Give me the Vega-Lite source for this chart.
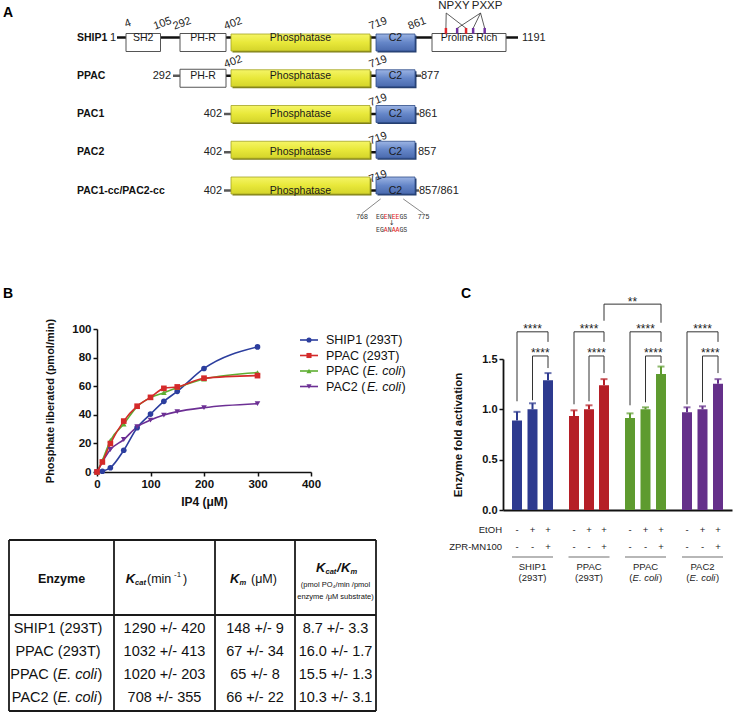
{
"$schema":"https://vega.github.io/schema/vega-lite/v6.json",
"width":733,"height":713,"padding":0,"autosize":{"type":"none"},"background":"white",
"config":{"view":{"stroke":null},"font":"Liberation Sans","axis":{"grid":false}},
"datasets":{
"proteins":[
{"row":0,"name":"SHIP1","start":1,"end":1191,"startLabel":"1","endLabel":"1191"},
{"row":1,"name":"PPAC","start":292,"end":877,"startLabel":"292","endLabel":"877"},
{"row":2,"name":"PAC1","start":402,"end":861,"startLabel":"402","endLabel":"861"},
{"row":3,"name":"PAC2","start":402,"end":857,"startLabel":"402","endLabel":"857"},
{"row":4,"name":"PAC1-cc/PAC2-cc","start":402,"end":861,"startLabel":"402","endLabel":"857/861"}],
"domains":[
{"row":0,"domain":"SH2","kind":"plain","start":4,"end":105},
{"row":0,"domain":"PH-R","kind":"plain","start":292,"end":398},
{"row":0,"domain":"Phosphatase","kind":"phos","start":402,"end":715},
{"row":0,"domain":"C2","kind":"c2","start":719,"end":861},
{"row":0,"domain":"Proline Rich","kind":"plain","start":900,"end":1150},
{"row":1,"domain":"PH-R","kind":"plain","start":292,"end":398},
{"row":1,"domain":"Phosphatase","kind":"phos","start":402,"end":715},
{"row":1,"domain":"C2","kind":"c2","start":719,"end":861},
{"row":2,"domain":"Phosphatase","kind":"phos","start":402,"end":715},
{"row":2,"domain":"C2","kind":"c2","start":719,"end":861},
{"row":3,"domain":"Phosphatase","kind":"phos","start":402,"end":715},
{"row":3,"domain":"C2","kind":"c2","start":719,"end":861},
{"row":4,"domain":"Phosphatase","kind":"phos","start":402,"end":715},
{"row":4,"domain":"C2","kind":"c2","start":719,"end":861}],
"positions":[
{"row":0,"res":4,"label":"4"},{"row":0,"res":105,"label":"105"},{"row":0,"res":292,"label":"292"},{"row":0,"res":402,"label":"402"},{"row":0,"res":719,"label":"719"},{"row":0,"res":861,"label":"861"},
{"row":1,"res":402,"label":"402"},{"row":1,"res":719,"label":"719"},{"row":2,"res":719,"label":"719"},{"row":3,"res":719,"label":"719"},{"row":4,"res":719,"label":"719"}],
"motifs":[{"motif":"NPXY","res":947},{"motif":"NPXY","res":1015},{"motif":"PXXP","res":985},{"motif":"PXXP","res":1039},{"motif":"PXXP","res":1078}],
"motifLabels":[{"motif":"NPXY","labelRes":974,"originRes":948},{"motif":"PXXP","labelRes":1086,"originRes":1064}],
"mutEnds":[{"label":"768","res":697,"boxRes":736},{"label":"775","res":887,"boxRes":818}],
"mutation":[
{"line":0,"sequence":"EGENEEGS","p1":"EG","p2":"E","p3":"N","p4":"EE","p5":"GS"},
{"line":1,"sequence":"EGANAAGS","p1":"EG","p2":"A","p3":"N","p4":"AA","p5":"GS"}],
"kinetics":[
{"series":"SHIP1 (293T)","ip4":0,"rate":0},{"series":"SHIP1 (293T)","ip4":10,"rate":0.5},{"series":"SHIP1 (293T)","ip4":25,"rate":3},{"series":"SHIP1 (293T)","ip4":50,"rate":15.2},{"series":"SHIP1 (293T)","ip4":75,"rate":31},{"series":"SHIP1 (293T)","ip4":100,"rate":40.5},{"series":"SHIP1 (293T)","ip4":125,"rate":49.4},{"series":"SHIP1 (293T)","ip4":150,"rate":56.4},{"series":"SHIP1 (293T)","ip4":200,"rate":72.4},{"series":"SHIP1 (293T)","ip4":300,"rate":87.5},
{"series":"PPAC (E. coli)","ip4":0,"rate":0},{"series":"PPAC (E. coli)","ip4":10,"rate":8},{"series":"PPAC (E. coli)","ip4":25,"rate":22},{"series":"PPAC (E. coli)","ip4":50,"rate":33.5},{"series":"PPAC (E. coli)","ip4":75,"rate":45.7},{"series":"PPAC (E. coli)","ip4":100,"rate":52},{"series":"PPAC (E. coli)","ip4":125,"rate":55.5},{"series":"PPAC (E. coli)","ip4":150,"rate":59},{"series":"PPAC (E. coli)","ip4":200,"rate":65},{"series":"PPAC (E. coli)","ip4":300,"rate":69.5},
{"series":"PAC2 (E. coli)","ip4":0,"rate":0},{"series":"PAC2 (E. coli)","ip4":25,"rate":15.7},{"series":"PAC2 (E. coli)","ip4":50,"rate":22.7},{"series":"PAC2 (E. coli)","ip4":75,"rate":31.6},{"series":"PAC2 (E. coli)","ip4":100,"rate":36.3},{"series":"PAC2 (E. coli)","ip4":125,"rate":39.8},{"series":"PAC2 (E. coli)","ip4":150,"rate":42.2},{"series":"PAC2 (E. coli)","ip4":200,"rate":45},{"series":"PAC2 (E. coli)","ip4":300,"rate":47.8},
{"series":"PPAC (293T)","ip4":0,"rate":0},{"series":"PPAC (293T)","ip4":10,"rate":7},{"series":"PPAC (293T)","ip4":25,"rate":19.9},{"series":"PPAC (293T)","ip4":50,"rate":35.6},{"series":"PPAC (293T)","ip4":75,"rate":46},{"series":"PPAC (293T)","ip4":100,"rate":52.2},{"series":"PPAC (293T)","ip4":125,"rate":58.5},{"series":"PPAC (293T)","ip4":150,"rate":59.5},{"series":"PPAC (293T)","ip4":200,"rate":65.6},{"series":"PPAC (293T)","ip4":300,"rate":67.4}],
"series":[
{"series":"SHIP1 (293T)","prefix":"SHIP1 (","host":"293T"},
{"series":"PPAC (293T)","prefix":"PPAC (","host":"293T"},
{"series":"PPAC (E. coli)","prefix":"PPAC (","host":"E. coli"},
{"series":"PAC2 (E. coli)","prefix":"PAC2 (","host":"E. coli"}],
"table":[
{"r":1.5,"enzyme":"SHIP1  (293T)","prefix":"SHIP1 (","host":"293T","kcat":"1290 +/- 420","km":"148 +/- 9","ratio":"8.7 +/- 3.3"},
{"r":2.5,"enzyme":"PPAC  (293T)","prefix":"PPAC (","host":"293T","kcat":"1032 +/- 413","km":"67 +/- 34","ratio":"16.0 +/- 1.7"},
{"r":3.5,"enzyme":"PPAC (E. coli)","prefix":"PPAC (","host":"E. coli","kcat":"1020 +/- 203","km":"65 +/- 8","ratio":"15.5 +/- 1.3"},
{"r":4.5,"enzyme":"PAC2 (E. coli)","prefix":"PAC2 (","host":"E. coli","kcat":"708 +/- 355","km":"66 +/- 22","ratio":"10.3 +/- 3.1"}],
"activation":[
{"enzyme":"SHIP1 (293T)","slot":0,"etoh":"-","zpr":"-","mean":0.89,"upper":0.975},
{"enzyme":"SHIP1 (293T)","slot":1,"etoh":"+","zpr":"-","mean":1.0,"upper":1.06},
{"enzyme":"SHIP1 (293T)","slot":2,"etoh":"+","zpr":"+","mean":1.29,"upper":1.36},
{"enzyme":"PPAC (293T)","slot":3,"etoh":"-","zpr":"-","mean":0.935,"upper":0.99},
{"enzyme":"PPAC (293T)","slot":4,"etoh":"+","zpr":"-","mean":1.0,"upper":1.04},
{"enzyme":"PPAC (293T)","slot":5,"etoh":"+","zpr":"+","mean":1.24,"upper":1.3},
{"enzyme":"PPAC (E. coli)","slot":6,"etoh":"-","zpr":"-","mean":0.915,"upper":0.96},
{"enzyme":"PPAC (E. coli)","slot":7,"etoh":"+","zpr":"-","mean":1.0,"upper":1.02},
{"enzyme":"PPAC (E. coli)","slot":8,"etoh":"+","zpr":"+","mean":1.35,"upper":1.425},
{"enzyme":"PAC2 (E. coli)","slot":9,"etoh":"-","zpr":"-","mean":0.97,"upper":1.02},
{"enzyme":"PAC2 (E. coli)","slot":10,"etoh":"+","zpr":"-","mean":1.0,"upper":1.03},
{"enzyme":"PAC2 (E. coli)","slot":11,"etoh":"+","zpr":"+","mean":1.255,"upper":1.3}],
"brackets":[
{"x1":0,"x2":2,"xm":1,"top":1.77,"yl":1.08,"yr":1.67,"label":"****"},
{"x1":1,"x2":2,"xm":1.5,"top":1.53,"yl":1.09,"yr":1.41,"label":"****"},
{"x1":3,"x2":5,"xm":4,"top":1.77,"yl":1.05,"yr":1.67,"label":"****"},
{"x1":4,"x2":5,"xm":4.5,"top":1.53,"yl":1.08,"yr":1.36,"label":"****"},
{"x1":6,"x2":8,"xm":7,"top":1.77,"yl":1.04,"yr":1.67,"label":"****"},
{"x1":7,"x2":8,"xm":7.5,"top":1.53,"yl":1.07,"yr":1.46,"label":"****"},
{"x1":9,"x2":11,"xm":10,"top":1.77,"yl":1.05,"yr":1.67,"label":"****"},
{"x1":10,"x2":11,"xm":10.5,"top":1.53,"yl":1.07,"yr":1.36,"label":"****"},
{"x1":5,"x2":8,"xm":6.16,"top":2.045,"yl":1.88,"yr":1.86,"label":"**"}],
"groups":[
{"g":"SHIP1 (293T)","name":"SHIP1","host":"293T","mid":1},
{"g":"PPAC (293T)","name":"PPAC","host":"293T","mid":4},
{"g":"PPAC (E. coli)","name":"PPAC","host":"E. coli","mid":7},
{"g":"PAC2 (E. coli)","name":"PAC2","host":"E. coli","mid":10}]
},
"resolve":{"scale":{"x":"independent","y":"independent","color":"independent","shape":"independent"}},
"layer":[
{"data":{"name":"proteins"},"mark":{"type":"rule","strokeWidth":2.5,"color":"#111"},
 "encoding":{"x":{"field":"start","type":"quantitative","scale":{"type":"linear","domain":[1,4,105,292,398,402,715,719,861,877,900,1150,1191],"range":[117,126,160.5,180,226,231,370,376,415,417,432,506,518],"zero":false,"nice":false},"axis":null},"x2":{"field":"end"},
 "y":{"field":"row","type":"quantitative","scale":{"type":"linear","domain":[0,4],"range":[37.5,190.5],"zero":false,"nice":false},"axis":null}}},
{"data":{"name":"proteins"},"transform":[{"filter":"datum.row > 0"}],"mark":{"type":"tick","orient":"horizontal","size":7,"thickness":2.5,"xOffset":-3.5,"color":"#111"},
 "encoding":{"x":{"field":"start","type":"quantitative","scale":{"type":"linear","domain":[1,4,105,292,398,402,715,719,861,877,900,1150,1191],"range":[117,126,160.5,180,226,231,370,376,415,417,432,506,518],"zero":false,"nice":false},"axis":null},
 "y":{"field":"row","type":"quantitative","scale":{"type":"linear","domain":[0,4],"range":[37.5,190.5],"zero":false,"nice":false},"axis":null}}},
{"data":{"name":"proteins"},"transform":[{"filter":"datum.row == 1 || datum.row == 2 || datum.row == 4"}],"mark":{"type":"tick","orient":"horizontal","size":4,"thickness":2.5,"xOffset":2,"color":"#111"},
 "encoding":{"x":{"field":"end","type":"quantitative","scale":{"type":"linear","domain":[1,4,105,292,398,402,715,719,861,877,900,1150,1191],"range":[117,126,160.5,180,226,231,370,376,415,417,432,506,518],"zero":false,"nice":false},"axis":null},
 "y":{"field":"row","type":"quantitative","scale":{"type":"linear","domain":[0,4],"range":[37.5,190.5],"zero":false,"nice":false},"axis":null}}},
{"data":{"name":"domains"},"transform":[{"filter":"datum.kind == 'phos'"}],"mark":{"type":"bar","orient":"horizontal","height":17,"xOffset":1.5,"x2Offset":1.5,"yOffset":1.5,"color":"#7d7d16"},
 "encoding":{"x":{"field":"start","type":"quantitative","scale":{"type":"linear","domain":[1,4,105,292,398,402,715,719,861,877,900,1150,1191],"range":[117,126,160.5,180,226,231,370,376,415,417,432,506,518],"zero":false,"nice":false},"axis":null},"x2":{"field":"end"},
 "y":{"field":"row","type":"quantitative","scale":{"type":"linear","domain":[0,4],"range":[37.5,190.5],"zero":false,"nice":false},"axis":null}}},
{"data":{"name":"domains"},"transform":[{"filter":"datum.kind == 'c2'"}],"mark":{"type":"bar","orient":"horizontal","height":17,"xOffset":1.5,"x2Offset":1.5,"yOffset":1.5,"color":"#253e6e"},
 "encoding":{"x":{"field":"start","type":"quantitative","scale":{"type":"linear","domain":[1,4,105,292,398,402,715,719,861,877,900,1150,1191],"range":[117,126,160.5,180,226,231,370,376,415,417,432,506,518],"zero":false,"nice":false},"axis":null},"x2":{"field":"end"},
 "y":{"field":"row","type":"quantitative","scale":{"type":"linear","domain":[0,4],"range":[37.5,190.5],"zero":false,"nice":false},"axis":null}}},
{"data":{"name":"domains"},"transform":[{"filter":"datum.kind == 'plain'"}],"mark":{"type":"bar","orient":"horizontal","height":18,"fill":"white","stroke":"#555","strokeWidth":1},
 "encoding":{"x":{"field":"start","type":"quantitative","scale":{"type":"linear","domain":[1,4,105,292,398,402,715,719,861,877,900,1150,1191],"range":[117,126,160.5,180,226,231,370,376,415,417,432,506,518],"zero":false,"nice":false},"axis":null},"x2":{"field":"end"},
 "y":{"field":"row","type":"quantitative","scale":{"type":"linear","domain":[0,4],"range":[37.5,190.5],"zero":false,"nice":false},"axis":null}}},
{"data":{"name":"domains"},"transform":[{"filter":"datum.kind == 'phos'"}],"mark":{"type":"bar","orient":"horizontal","height":17,"stroke":"#a3a324","strokeWidth":0.8,"fill":{"gradient":"linear","x1":0,"y1":0,"x2":0,"y2":1,"stops":[{"offset":0,"color":"#f5f566"},{"offset":0.5,"color":"#e8e83a"},{"offset":1,"color":"#d4d42a"}]}},
 "encoding":{"x":{"field":"start","type":"quantitative","scale":{"type":"linear","domain":[1,4,105,292,398,402,715,719,861,877,900,1150,1191],"range":[117,126,160.5,180,226,231,370,376,415,417,432,506,518],"zero":false,"nice":false},"axis":null},"x2":{"field":"end"},
 "y":{"field":"row","type":"quantitative","scale":{"type":"linear","domain":[0,4],"range":[37.5,190.5],"zero":false,"nice":false},"axis":null}}},
{"data":{"name":"domains"},"transform":[{"filter":"datum.kind == 'c2'"}],"mark":{"type":"bar","orient":"horizontal","height":17,"stroke":"#2d4c88","strokeWidth":0.8,"fill":{"gradient":"linear","x1":0,"y1":0,"x2":0,"y2":1,"stops":[{"offset":0,"color":"#9cb4e4"},{"offset":0.5,"color":"#6586c8"},{"offset":1,"color":"#4a6aae"}]}},
 "encoding":{"x":{"field":"start","type":"quantitative","scale":{"type":"linear","domain":[1,4,105,292,398,402,715,719,861,877,900,1150,1191],"range":[117,126,160.5,180,226,231,370,376,415,417,432,506,518],"zero":false,"nice":false},"axis":null},"x2":{"field":"end"},
 "y":{"field":"row","type":"quantitative","scale":{"type":"linear","domain":[0,4],"range":[37.5,190.5],"zero":false,"nice":false},"axis":null}}},
{"data":{"name":"domains"},"transform":[{"calculate":"(datum.start + datum.end) / 2","as":"mid"}],"mark":{"type":"text","fontSize":10.5,"color":"#1a1a1a","baseline":"middle","align":"center"},
 "encoding":{"x":{"field":"mid","type":"quantitative","scale":{"type":"linear","domain":[1,4,105,292,398,402,715,719,861,877,900,1150,1191],"range":[117,126,160.5,180,226,231,370,376,415,417,432,506,518],"zero":false,"nice":false},"axis":null},
 "y":{"field":"row","type":"quantitative","scale":{"type":"linear","domain":[0,4],"range":[37.5,190.5],"zero":false,"nice":false},"axis":null},"text":{"field":"domain"}}},
{"data":{"name":"motifs"},"transform":[{"lookup":"motif","from":{"data":{"name":"motifLabels"},"key":"motif","fields":["originRes"]}}],"mark":{"type":"rule","strokeWidth":0.8,"color":"#333"},
 "encoding":{"x":{"field":"originRes","type":"quantitative","scale":{"type":"linear","domain":[1,4,105,292,398,402,715,719,861,877,900,1150,1191],"range":[117,126,160.5,180,226,231,370,376,415,417,432,506,518],"zero":false,"nice":false},"axis":null},"x2":{"field":"res"},
 "y":{"datum":-0.64,"type":"quantitative","scale":{"type":"linear","domain":[0,4],"range":[37.5,190.5],"zero":false,"nice":false},"axis":null},"y2":{"datum":-0.24}}},
{"data":{"name":"motifs"},"transform":[{"filter":"datum.motif == 'NPXY'"}],"mark":{"type":"rule","strokeWidth":2.5,"color":"#e0262b"},
 "encoding":{"x":{"field":"res","type":"quantitative","scale":{"type":"linear","domain":[1,4,105,292,398,402,715,719,861,877,900,1150,1191],"range":[117,126,160.5,180,226,231,370,376,415,417,432,506,518],"zero":false,"nice":false},"axis":null},
 "y":{"datum":-0.25,"type":"quantitative","scale":{"type":"linear","domain":[0,4],"range":[37.5,190.5],"zero":false,"nice":false},"axis":null},"y2":{"datum":-0.1}}},
{"data":{"name":"motifs"},"transform":[{"filter":"datum.motif == 'PXXP'"}],"mark":{"type":"rule","strokeWidth":2.5,"color":"#7030a0"},
 "encoding":{"x":{"field":"res","type":"quantitative","scale":{"type":"linear","domain":[1,4,105,292,398,402,715,719,861,877,900,1150,1191],"range":[117,126,160.5,180,226,231,370,376,415,417,432,506,518],"zero":false,"nice":false},"axis":null},
 "y":{"datum":-0.25,"type":"quantitative","scale":{"type":"linear","domain":[0,4],"range":[37.5,190.5],"zero":false,"nice":false},"axis":null},"y2":{"datum":-0.1}}},
{"data":{"name":"motifLabels"},"mark":{"type":"text","fontSize":11.5,"color":"#222","baseline":"middle","align":"center"},
 "encoding":{"x":{"field":"labelRes","type":"quantitative","scale":{"type":"linear","domain":[1,4,105,292,398,402,715,719,861,877,900,1150,1191],"range":[117,126,160.5,180,226,231,370,376,415,417,432,506,518],"zero":false,"nice":false},"axis":null},
 "y":{"datum":-0.83,"type":"quantitative","scale":{"type":"linear","domain":[0,4],"range":[37.5,190.5],"zero":false,"nice":false},"axis":null},"text":{"field":"motif"}}},
{"data":{"name":"proteins"},"mark":{"type":"text","fontSize":10.5,"fontWeight":"bold","color":"#111","baseline":"middle","align":"left","dx":-40},
 "encoding":{"x":{"datum":1,"type":"quantitative","scale":{"type":"linear","domain":[1,4,105,292,398,402,715,719,861,877,900,1150,1191],"range":[117,126,160.5,180,226,231,370,376,415,417,432,506,518],"zero":false,"nice":false},"axis":null},
 "y":{"field":"row","type":"quantitative","scale":{"type":"linear","domain":[0,4],"range":[37.5,190.5],"zero":false,"nice":false},"axis":null},"text":{"field":"name"}}},
{"data":{"name":"proteins"},"transform":[{"filter":"datum.row == 0"}],"mark":{"type":"text","fontSize":11,"color":"#222","baseline":"middle","align":"right","dx":-1},
 "encoding":{"x":{"field":"start","type":"quantitative","scale":{"type":"linear","domain":[1,4,105,292,398,402,715,719,861,877,900,1150,1191],"range":[117,126,160.5,180,226,231,370,376,415,417,432,506,518],"zero":false,"nice":false},"axis":null},
 "y":{"field":"row","type":"quantitative","scale":{"type":"linear","domain":[0,4],"range":[37.5,190.5],"zero":false,"nice":false},"axis":null},"text":{"field":"startLabel"}}},
{"data":{"name":"proteins"},"transform":[{"filter":"datum.row > 0"}],"mark":{"type":"text","fontSize":11,"color":"#222","baseline":"middle","align":"right","dx":-9},
 "encoding":{"x":{"field":"start","type":"quantitative","scale":{"type":"linear","domain":[1,4,105,292,398,402,715,719,861,877,900,1150,1191],"range":[117,126,160.5,180,226,231,370,376,415,417,432,506,518],"zero":false,"nice":false},"axis":null},
 "y":{"field":"row","type":"quantitative","scale":{"type":"linear","domain":[0,4],"range":[37.5,190.5],"zero":false,"nice":false},"axis":null},"text":{"field":"startLabel"}}},
{"data":{"name":"proteins"},"mark":{"type":"text","fontSize":11,"color":"#222","baseline":"middle","align":"left","dx":4},
 "encoding":{"x":{"field":"end","type":"quantitative","scale":{"type":"linear","domain":[1,4,105,292,398,402,715,719,861,877,900,1150,1191],"range":[117,126,160.5,180,226,231,370,376,415,417,432,506,518],"zero":false,"nice":false},"axis":null},
 "y":{"field":"row","type":"quantitative","scale":{"type":"linear","domain":[0,4],"range":[37.5,190.5],"zero":false,"nice":false},"axis":null},"text":{"field":"endLabel"}}},
{"data":{"name":"positions"},"mark":{"type":"text","fontSize":11,"color":"#222","baseline":"alphabetic","align":"center","angle":-20,"xOffset":3,"yOffset":-11},
 "encoding":{"x":{"field":"res","type":"quantitative","scale":{"type":"linear","domain":[1,4,105,292,398,402,715,719,861,877,900,1150,1191],"range":[117,126,160.5,180,226,231,370,376,415,417,432,506,518],"zero":false,"nice":false},"axis":null},
 "y":{"field":"row","type":"quantitative","scale":{"type":"linear","domain":[0,4],"range":[37.5,190.5],"zero":false,"nice":false},"axis":null},"text":{"field":"label"}}},
{"data":{"name":"mutEnds"},"mark":{"type":"rule","strokeWidth":0.7,"color":"#555"},
 "encoding":{"x":{"field":"boxRes","type":"quantitative","scale":{"type":"linear","domain":[1,4,105,292,398,402,715,719,861,877,900,1150,1191],"range":[117,126,160.5,180,226,231,370,376,415,417,432,506,518],"zero":false,"nice":false},"axis":null},"x2":{"field":"res"},
 "y":{"datum":4.22,"type":"quantitative","scale":{"type":"linear","domain":[0,4],"range":[37.5,190.5],"zero":false,"nice":false},"axis":null},"y2":{"datum":4.6}}},
{"data":{"name":"mutEnds"},"mark":{"type":"text","fontSize":7,"color":"#333","baseline":"middle","align":"center"},
 "encoding":{"x":{"field":"res","type":"quantitative","scale":{"type":"linear","domain":[1,4,105,292,398,402,715,719,861,877,900,1150,1191],"range":[117,126,160.5,180,226,231,370,376,415,417,432,506,518],"zero":false,"nice":false},"axis":null},
 "y":{"datum":4.7,"type":"quantitative","scale":{"type":"linear","domain":[0,4],"range":[37.5,190.5],"zero":false,"nice":false},"axis":null},"text":{"field":"label"}}},
{"data":{"name":"mutation"},"mark":{"type":"text","font":"Liberation Mono","fontSize":6.5,"color":"#333","baseline":"middle","align":"left","dx":-15.6},
 "encoding":{"x":{"datum":776,"type":"quantitative","scale":{"type":"linear","domain":[1,4,105,292,398,402,715,719,861,877,900,1150,1191],"range":[117,126,160.5,180,226,231,370,376,415,417,432,506,518],"zero":false,"nice":false},"axis":null},
 "y":{"field":"line","type":"quantitative","scale":{"type":"linear","domain":[0,1],"range":[216.7,230],"zero":false,"nice":false},"axis":null},"text":{"field":"p1"}}},
{"data":{"name":"mutation"},"mark":{"type":"text","font":"Liberation Mono","fontSize":6.5,"color":"#e02020","baseline":"middle","align":"left","dx":-7.8},
 "encoding":{"x":{"datum":776,"type":"quantitative","scale":{"type":"linear","domain":[1,4,105,292,398,402,715,719,861,877,900,1150,1191],"range":[117,126,160.5,180,226,231,370,376,415,417,432,506,518],"zero":false,"nice":false},"axis":null},
 "y":{"field":"line","type":"quantitative","scale":{"type":"linear","domain":[0,1],"range":[216.7,230],"zero":false,"nice":false},"axis":null},"text":{"field":"p2"}}},
{"data":{"name":"mutation"},"mark":{"type":"text","font":"Liberation Mono","fontSize":6.5,"color":"#333","baseline":"middle","align":"left","dx":-3.9},
 "encoding":{"x":{"datum":776,"type":"quantitative","scale":{"type":"linear","domain":[1,4,105,292,398,402,715,719,861,877,900,1150,1191],"range":[117,126,160.5,180,226,231,370,376,415,417,432,506,518],"zero":false,"nice":false},"axis":null},
 "y":{"field":"line","type":"quantitative","scale":{"type":"linear","domain":[0,1],"range":[216.7,230],"zero":false,"nice":false},"axis":null},"text":{"field":"p3"}}},
{"data":{"name":"mutation"},"mark":{"type":"text","font":"Liberation Mono","fontSize":6.5,"color":"#e02020","baseline":"middle","align":"left","dx":0},
 "encoding":{"x":{"datum":776,"type":"quantitative","scale":{"type":"linear","domain":[1,4,105,292,398,402,715,719,861,877,900,1150,1191],"range":[117,126,160.5,180,226,231,370,376,415,417,432,506,518],"zero":false,"nice":false},"axis":null},
 "y":{"field":"line","type":"quantitative","scale":{"type":"linear","domain":[0,1],"range":[216.7,230],"zero":false,"nice":false},"axis":null},"text":{"field":"p4"}}},
{"data":{"name":"mutation"},"mark":{"type":"text","font":"Liberation Mono","fontSize":6.5,"color":"#333","baseline":"middle","align":"left","dx":7.8},
 "encoding":{"x":{"datum":776,"type":"quantitative","scale":{"type":"linear","domain":[1,4,105,292,398,402,715,719,861,877,900,1150,1191],"range":[117,126,160.5,180,226,231,370,376,415,417,432,506,518],"zero":false,"nice":false},"axis":null},
 "y":{"field":"line","type":"quantitative","scale":{"type":"linear","domain":[0,1],"range":[216.7,230],"zero":false,"nice":false},"axis":null},"text":{"field":"p5"}}},
{"data":{"values":[{"arrow":"↓"}]},"mark":{"type":"text","font":"DejaVu Sans","fontSize":7,"color":"#333","baseline":"middle","align":"center"},
 "encoding":{"x":{"datum":776,"type":"quantitative","scale":{"type":"linear","domain":[1,4,105,292,398,402,715,719,861,877,900,1150,1191],"range":[117,126,160.5,180,226,231,370,376,415,417,432,506,518],"zero":false,"nice":false},"axis":null},
 "y":{"datum":0.5,"type":"quantitative","scale":{"type":"linear","domain":[0,1],"range":[216.7,230],"zero":false,"nice":false},"axis":null},"text":{"field":"arrow"}}},

{"data":{"name":"kinetics"},"mark":{"type":"line","interpolate":"monotone","strokeWidth":1.6},
 "encoding":{"x":{"field":"ip4","type":"quantitative","scale":{"type":"linear","domain":[0,400],"range":[97,311],"zero":false,"nice":false},
   "axis":{"orient":"bottom","offset":-241,"values":[0,100,200,300,400],"title":"IP4 (μM)","titleFontSize":12,"titleFontWeight":"bold","titleColor":"#111","titlePadding":7,"labelFontSize":11.5,"labelFontWeight":"bold","labelColor":"#111","labelPadding":2,"labelFlush":false,"tickSize":4,"tickWidth":1.5,"tickColor":"#111","domainColor":"#111","domainWidth":1.5,"grid":false}},
 "y":{"field":"rate","type":"quantitative","scale":{"type":"linear","domain":[0,100],"range":[472,329],"zero":false,"nice":false},
   "axis":{"orient":"left","offset":-97,"values":[0,20,40,60,80,100],"title":"Phosphate liberated (pmol/min)","titleFontSize":11,"titleFontWeight":"bold","titleColor":"#111","titlePadding":16,"labelFontSize":11.5,"labelFontWeight":"bold","labelColor":"#111","labelPadding":2,"labelFlush":false,"tickSize":4,"tickWidth":1.5,"tickColor":"#111","domainColor":"#111","domainWidth":1.5,"grid":false}},
 "color":{"field":"series","type":"nominal","scale":{"domain":["SHIP1 (293T)","PPAC (293T)","PPAC (E. coli)","PAC2 (E. coli)"],"range":["#2c3e9e","#d42a2a","#5eae32","#6c2f94"]},"legend":null}}},
{"data":{"name":"kinetics"},"mark":{"type":"point","filled":true,"size":32,"opacity":1},
 "encoding":{"x":{"field":"ip4","type":"quantitative","scale":{"type":"linear","domain":[0,400],"range":[97,311],"zero":false,"nice":false},"axis":null},
 "y":{"field":"rate","type":"quantitative","scale":{"type":"linear","domain":[0,100],"range":[472,329],"zero":false,"nice":false},"axis":null},
 "color":{"field":"series","type":"nominal","scale":{"domain":["SHIP1 (293T)","PPAC (293T)","PPAC (E. coli)","PAC2 (E. coli)"],"range":["#2c3e9e","#d42a2a","#5eae32","#6c2f94"]},"legend":null},
 "shape":{"field":"series","type":"nominal","scale":{"domain":["SHIP1 (293T)","PPAC (293T)","PPAC (E. coli)","PAC2 (E. coli)"],"range":["circle","square","triangle-up","triangle-down"]},"legend":null}}},

{"data":{"name":"series"},"mark":{"type":"rule","strokeWidth":1.6},
 "encoding":{"x":{"datum":0,"type":"quantitative","scale":{"type":"linear","domain":[0,1],"range":[300,318],"zero":false,"nice":false},"axis":null},"x2":{"datum":1},
 "y":{"field":"series","type":"nominal","scale":{"type":"point","domain":["SHIP1 (293T)","PPAC (293T)","PPAC (E. coli)","PAC2 (E. coli)"],"range":[340,386.5],"padding":0},"axis":null},
 "color":{"field":"series","type":"nominal","scale":{"domain":["SHIP1 (293T)","PPAC (293T)","PPAC (E. coli)","PAC2 (E. coli)"],"range":["#2c3e9e","#d42a2a","#5eae32","#6c2f94"]},"legend":null}}},
{"data":{"name":"series"},"mark":{"type":"point","filled":true,"size":26,"opacity":1},
 "encoding":{"x":{"datum":0.5,"type":"quantitative","scale":{"type":"linear","domain":[0,1],"range":[300,318],"zero":false,"nice":false},"axis":null},
 "y":{"field":"series","type":"nominal","scale":{"type":"point","domain":["SHIP1 (293T)","PPAC (293T)","PPAC (E. coli)","PAC2 (E. coli)"],"range":[340,386.5],"padding":0},"axis":null},
 "color":{"field":"series","type":"nominal","scale":{"domain":["SHIP1 (293T)","PPAC (293T)","PPAC (E. coli)","PAC2 (E. coli)"],"range":["#2c3e9e","#d42a2a","#5eae32","#6c2f94"]},"legend":null},
 "shape":{"field":"series","type":"nominal","scale":{"domain":["SHIP1 (293T)","PPAC (293T)","PPAC (E. coli)","PAC2 (E. coli)"],"range":["circle","square","triangle-up","triangle-down"]},"legend":null}}},
{"data":{"name":"series"},"transform":[{"filter":"datum.host == '293T'"}],"mark":{"type":"text","align":"left","baseline":"middle","dx":8,"fontSize":12.5,"color":"#111"},
 "encoding":{"x":{"datum":1,"type":"quantitative","scale":{"type":"linear","domain":[0,1],"range":[300,318],"zero":false,"nice":false},"axis":null},
 "y":{"field":"series","type":"nominal","scale":{"type":"point","domain":["SHIP1 (293T)","PPAC (293T)","PPAC (E. coli)","PAC2 (E. coli)"],"range":[340,386.5],"padding":0},"axis":null},"text":{"field":"series"}}},
{"data":{"name":"series"},"transform":[{"filter":"datum.host == 'E. coli'"}],"mark":{"type":"text","align":"left","baseline":"middle","dx":8,"fontSize":12.5,"color":"#111"},
 "encoding":{"x":{"datum":1,"type":"quantitative","scale":{"type":"linear","domain":[0,1],"range":[300,318],"zero":false,"nice":false},"axis":null},
 "y":{"field":"series","type":"nominal","scale":{"type":"point","domain":["SHIP1 (293T)","PPAC (293T)","PPAC (E. coli)","PAC2 (E. coli)"],"range":[340,386.5],"padding":0},"axis":null},"text":{"field":"prefix"}}},
{"data":{"name":"series"},"transform":[{"filter":"datum.host == 'E. coli'"}],"mark":{"type":"text","align":"left","baseline":"middle","dx":49,"fontSize":12.5,"fontStyle":"italic","color":"#111"},
 "encoding":{"x":{"datum":1,"type":"quantitative","scale":{"type":"linear","domain":[0,1],"range":[300,318],"zero":false,"nice":false},"axis":null},
 "y":{"field":"series","type":"nominal","scale":{"type":"point","domain":["SHIP1 (293T)","PPAC (293T)","PPAC (E. coli)","PAC2 (E. coli)"],"range":[340,386.5],"padding":0},"axis":null},"text":{"field":"host"}}},
{"data":{"name":"series"},"transform":[{"filter":"datum.host == 'E. coli'"}],"mark":{"type":"text","align":"left","baseline":"middle","dx":83.5,"fontSize":12.5,"color":"#111"},
 "encoding":{"x":{"datum":1,"type":"quantitative","scale":{"type":"linear","domain":[0,1],"range":[300,318],"zero":false,"nice":false},"axis":null},
 "y":{"field":"series","type":"nominal","scale":{"type":"point","domain":["SHIP1 (293T)","PPAC (293T)","PPAC (E. coli)","PAC2 (E. coli)"],"range":[340,386.5],"padding":0},"axis":null},"text":{"value":")"}}},

{"data":{"values":[{"e":0},{"e":1},{"e":2},{"e":3},{"e":4}]},"mark":{"type":"rule","strokeWidth":1.8,"color":"#1a1a1a"},
 "encoding":{"x":{"field":"e","type":"quantitative","scale":{"type":"linear","domain":[0,1,2,3,4],"range":[9,114,215,295,376],"zero":false,"nice":false},"axis":null},
 "y":{"datum":0,"type":"quantitative","scale":{"type":"linear","domain":[0,1,1.5,4.5,5],"range":[540,615,629,698,711],"zero":false,"nice":false},"axis":null},"y2":{"datum":5}}},
{"data":{"values":[{"h":0},{"h":1},{"h":5}]},"mark":{"type":"rule","strokeWidth":1.8,"color":"#1a1a1a"},
 "encoding":{"x":{"datum":0,"type":"quantitative","scale":{"type":"linear","domain":[0,1,2,3,4],"range":[9,114,215,295,376],"zero":false,"nice":false},"axis":null},"x2":{"datum":4},
 "y":{"field":"h","type":"quantitative","scale":{"type":"linear","domain":[0,1,1.5,4.5,5],"range":[540,615,629,698,711],"zero":false,"nice":false},"axis":null}}},
{"data":{"values":[{"t":"Enzyme","c":0.5}]},"mark":{"type":"text","baseline":"middle","align":"center","fontSize":12.5,"fontWeight":"bold","color":"#111","dy":1.5},
 "encoding":{"x":{"field":"c","type":"quantitative","scale":{"type":"linear","domain":[0,1,2,3,4],"range":[9,114,215,295,376],"zero":false,"nice":false},"axis":null},
 "y":{"datum":0.5,"type":"quantitative","scale":{"type":"linear","domain":[0,1,1.5,4.5,5],"range":[540,615,629,698,711],"zero":false,"nice":false},"axis":null},"text":{"field":"t"}}},
{"data":{"values":[{"t":"K","c":1.5}]},"mark":{"type":"text","baseline":"middle","align":"left","fontSize":13,"fontWeight":"bold","fontStyle":"italic","color":"#111","dx":-38.8,"dy":1.5},
 "encoding":{"x":{"field":"c","type":"quantitative","scale":{"type":"linear","domain":[0,1,2,3,4],"range":[9,114,215,295,376],"zero":false,"nice":false},"axis":null},
 "y":{"datum":0.5,"type":"quantitative","scale":{"type":"linear","domain":[0,1,1.5,4.5,5],"range":[540,615,629,698,711],"zero":false,"nice":false},"axis":null},"text":{"field":"t"}}},
{"data":{"values":[{"t":"cat","c":1.5}]},"mark":{"type":"text","baseline":"middle","align":"left","fontSize":7.5,"fontWeight":"bold","fontStyle":"italic","color":"#111","dx":-29.4,"dy":5},
 "encoding":{"x":{"field":"c","type":"quantitative","scale":{"type":"linear","domain":[0,1,2,3,4],"range":[9,114,215,295,376],"zero":false,"nice":false},"axis":null},
 "y":{"datum":0.5,"type":"quantitative","scale":{"type":"linear","domain":[0,1,1.5,4.5,5],"range":[540,615,629,698,711],"zero":false,"nice":false},"axis":null},"text":{"field":"t"}}},
{"data":{"values":[{"t":"(min","c":1.5}]},"mark":{"type":"text","baseline":"middle","align":"left","fontSize":12.5,"color":"#111","dx":-17.5,"dy":1.5},
 "encoding":{"x":{"field":"c","type":"quantitative","scale":{"type":"linear","domain":[0,1,2,3,4],"range":[9,114,215,295,376],"zero":false,"nice":false},"axis":null},
 "y":{"datum":0.5,"type":"quantitative","scale":{"type":"linear","domain":[0,1,1.5,4.5,5],"range":[540,615,629,698,711],"zero":false,"nice":false},"axis":null},"text":{"field":"t"}}},
{"data":{"values":[{"t":"-1","c":1.5}]},"mark":{"type":"text","baseline":"middle","align":"left","fontSize":8,"color":"#111","dx":9.5,"dy":-3},
 "encoding":{"x":{"field":"c","type":"quantitative","scale":{"type":"linear","domain":[0,1,2,3,4],"range":[9,114,215,295,376],"zero":false,"nice":false},"axis":null},
 "y":{"datum":0.5,"type":"quantitative","scale":{"type":"linear","domain":[0,1,1.5,4.5,5],"range":[540,615,629,698,711],"zero":false,"nice":false},"axis":null},"text":{"field":"t"}}},
{"data":{"values":[{"t":")","c":1.5}]},"mark":{"type":"text","baseline":"middle","align":"left","fontSize":12.5,"color":"#111","dx":18.5,"dy":1.5},
 "encoding":{"x":{"field":"c","type":"quantitative","scale":{"type":"linear","domain":[0,1,2,3,4],"range":[9,114,215,295,376],"zero":false,"nice":false},"axis":null},
 "y":{"datum":0.5,"type":"quantitative","scale":{"type":"linear","domain":[0,1,1.5,4.5,5],"range":[540,615,629,698,711],"zero":false,"nice":false},"axis":null},"text":{"field":"t"}}},
{"data":{"values":[{"t":"K","c":2.5}]},"mark":{"type":"text","baseline":"middle","align":"left","fontSize":13,"fontWeight":"bold","fontStyle":"italic","color":"#111","dx":-25,"dy":1.5},
 "encoding":{"x":{"field":"c","type":"quantitative","scale":{"type":"linear","domain":[0,1,2,3,4],"range":[9,114,215,295,376],"zero":false,"nice":false},"axis":null},
 "y":{"datum":0.5,"type":"quantitative","scale":{"type":"linear","domain":[0,1,1.5,4.5,5],"range":[540,615,629,698,711],"zero":false,"nice":false},"axis":null},"text":{"field":"t"}}},
{"data":{"values":[{"t":"m","c":2.5}]},"mark":{"type":"text","baseline":"middle","align":"left","fontSize":7.5,"fontWeight":"bold","fontStyle":"italic","color":"#111","dx":-15.6,"dy":5},
 "encoding":{"x":{"field":"c","type":"quantitative","scale":{"type":"linear","domain":[0,1,2,3,4],"range":[9,114,215,295,376],"zero":false,"nice":false},"axis":null},
 "y":{"datum":0.5,"type":"quantitative","scale":{"type":"linear","domain":[0,1,1.5,4.5,5],"range":[540,615,629,698,711],"zero":false,"nice":false},"axis":null},"text":{"field":"t"}}},
{"data":{"values":[{"t":"(μM)","c":2.5}]},"mark":{"type":"text","baseline":"middle","align":"left","fontSize":12.5,"color":"#111","dx":-4,"dy":1.5},
 "encoding":{"x":{"field":"c","type":"quantitative","scale":{"type":"linear","domain":[0,1,2,3,4],"range":[9,114,215,295,376],"zero":false,"nice":false},"axis":null},
 "y":{"datum":0.5,"type":"quantitative","scale":{"type":"linear","domain":[0,1,1.5,4.5,5],"range":[540,615,629,698,711],"zero":false,"nice":false},"axis":null},"text":{"field":"t"}}},
{"data":{"values":[{"t":"K","c":3.5}]},"mark":{"type":"text","baseline":"middle","align":"left","fontSize":13,"fontWeight":"bold","fontStyle":"italic","color":"#111","dx":-19.5,"dy":-9.5},
 "encoding":{"x":{"field":"c","type":"quantitative","scale":{"type":"linear","domain":[0,1,2,3,4],"range":[9,114,215,295,376],"zero":false,"nice":false},"axis":null},
 "y":{"datum":0.5,"type":"quantitative","scale":{"type":"linear","domain":[0,1,1.5,4.5,5],"range":[540,615,629,698,711],"zero":false,"nice":false},"axis":null},"text":{"field":"t"}}},
{"data":{"values":[{"t":"cat","c":3.5}]},"mark":{"type":"text","baseline":"middle","align":"left","fontSize":7.5,"fontWeight":"bold","fontStyle":"italic","color":"#111","dx":-10,"dy":-6},
 "encoding":{"x":{"field":"c","type":"quantitative","scale":{"type":"linear","domain":[0,1,2,3,4],"range":[9,114,215,295,376],"zero":false,"nice":false},"axis":null},
 "y":{"datum":0.5,"type":"quantitative","scale":{"type":"linear","domain":[0,1,1.5,4.5,5],"range":[540,615,629,698,711],"zero":false,"nice":false},"axis":null},"text":{"field":"t"}}},
{"data":{"values":[{"t":"/","c":3.5}]},"mark":{"type":"text","baseline":"middle","align":"left","fontSize":13,"fontWeight":"bold","fontStyle":"italic","color":"#111","dx":1.5,"dy":-9.5},
 "encoding":{"x":{"field":"c","type":"quantitative","scale":{"type":"linear","domain":[0,1,2,3,4],"range":[9,114,215,295,376],"zero":false,"nice":false},"axis":null},
 "y":{"datum":0.5,"type":"quantitative","scale":{"type":"linear","domain":[0,1,1.5,4.5,5],"range":[540,615,629,698,711],"zero":false,"nice":false},"axis":null},"text":{"field":"t"}}},
{"data":{"values":[{"t":"K","c":3.5}]},"mark":{"type":"text","baseline":"middle","align":"left","fontSize":13,"fontWeight":"bold","fontStyle":"italic","color":"#111","dx":5.5,"dy":-9.5},
 "encoding":{"x":{"field":"c","type":"quantitative","scale":{"type":"linear","domain":[0,1,2,3,4],"range":[9,114,215,295,376],"zero":false,"nice":false},"axis":null},
 "y":{"datum":0.5,"type":"quantitative","scale":{"type":"linear","domain":[0,1,1.5,4.5,5],"range":[540,615,629,698,711],"zero":false,"nice":false},"axis":null},"text":{"field":"t"}}},
{"data":{"values":[{"t":"m","c":3.5}]},"mark":{"type":"text","baseline":"middle","align":"left","fontSize":7.5,"fontWeight":"bold","fontStyle":"italic","color":"#111","dx":15,"dy":-6},
 "encoding":{"x":{"field":"c","type":"quantitative","scale":{"type":"linear","domain":[0,1,2,3,4],"range":[9,114,215,295,376],"zero":false,"nice":false},"axis":null},
 "y":{"datum":0.5,"type":"quantitative","scale":{"type":"linear","domain":[0,1,1.5,4.5,5],"range":[540,615,629,698,711],"zero":false,"nice":false},"axis":null},"text":{"field":"t"}}},
{"data":{"values":[{"t":"(pmol PO₄/min /pmol","c":3.5,"o":7.5},{"t":"enzyme /μM substrate)","c":3.5,"o":19.5}]},"mark":{"type":"text","baseline":"middle","align":"center","fontSize":7.5,"color":"#111"},
 "encoding":{"x":{"field":"c","type":"quantitative","scale":{"type":"linear","domain":[0,1,2,3,4],"range":[9,114,215,295,376],"zero":false,"nice":false},"axis":null},
 "yOffset":{"field":"o","type":"quantitative","scale":null},
 "y":{"datum":0.5,"type":"quantitative","scale":{"type":"linear","domain":[0,1,1.5,4.5,5],"range":[540,615,629,698,711],"zero":false,"nice":false},"axis":null},"text":{"field":"t"}}},
{"data":{"name":"table"},"transform":[{"filter":"datum.host == '293T'"}],"mark":{"type":"text","baseline":"middle","align":"center","fontSize":14.5,"color":"#111","dx":-3.5},
 "encoding":{"x":{"datum":0.5,"type":"quantitative","scale":{"type":"linear","domain":[0,1,2,3,4],"range":[9,114,215,295,376],"zero":false,"nice":false},"axis":null},
 "y":{"field":"r","type":"quantitative","scale":{"type":"linear","domain":[0,1,1.5,4.5,5],"range":[540,615,629,698,711],"zero":false,"nice":false},"axis":null},"text":{"field":"enzyme"}}},
{"data":{"name":"table"},"transform":[{"filter":"datum.host == 'E. coli'"}],"mark":{"type":"text","baseline":"middle","align":"right","fontSize":14.5,"color":"#111","dx":-4},
 "encoding":{"x":{"datum":0.5,"type":"quantitative","scale":{"type":"linear","domain":[0,1,2,3,4],"range":[9,114,215,295,376],"zero":false,"nice":false},"axis":null},
 "y":{"field":"r","type":"quantitative","scale":{"type":"linear","domain":[0,1,1.5,4.5,5],"range":[540,615,629,698,711],"zero":false,"nice":false},"axis":null},"text":{"field":"prefix"}}},
{"data":{"name":"table"},"transform":[{"filter":"datum.host == 'E. coli'"}],"mark":{"type":"text","baseline":"middle","align":"left","fontSize":14.5,"fontStyle":"italic","color":"#111","dx":-4},
 "encoding":{"x":{"datum":0.5,"type":"quantitative","scale":{"type":"linear","domain":[0,1,2,3,4],"range":[9,114,215,295,376],"zero":false,"nice":false},"axis":null},
 "y":{"field":"r","type":"quantitative","scale":{"type":"linear","domain":[0,1,1.5,4.5,5],"range":[540,615,629,698,711],"zero":false,"nice":false},"axis":null},"text":{"field":"host"}}},
{"data":{"name":"table"},"transform":[{"filter":"datum.host == 'E. coli'"}],"mark":{"type":"text","baseline":"middle","align":"left","fontSize":14.5,"color":"#111","dx":36},
 "encoding":{"x":{"datum":0.5,"type":"quantitative","scale":{"type":"linear","domain":[0,1,2,3,4],"range":[9,114,215,295,376],"zero":false,"nice":false},"axis":null},
 "y":{"field":"r","type":"quantitative","scale":{"type":"linear","domain":[0,1,1.5,4.5,5],"range":[540,615,629,698,711],"zero":false,"nice":false},"axis":null},"text":{"value":")"}}},
{"data":{"name":"table"},"mark":{"type":"text","baseline":"middle","align":"center","fontSize":14.5,"color":"#111"},
 "encoding":{"x":{"datum":1.5,"type":"quantitative","scale":{"type":"linear","domain":[0,1,2,3,4],"range":[9,114,215,295,376],"zero":false,"nice":false},"axis":null},
 "y":{"field":"r","type":"quantitative","scale":{"type":"linear","domain":[0,1,1.5,4.5,5],"range":[540,615,629,698,711],"zero":false,"nice":false},"axis":null},"text":{"field":"kcat"}}},
{"data":{"name":"table"},"mark":{"type":"text","baseline":"middle","align":"center","fontSize":14.5,"color":"#111"},
 "encoding":{"x":{"datum":2.5,"type":"quantitative","scale":{"type":"linear","domain":[0,1,2,3,4],"range":[9,114,215,295,376],"zero":false,"nice":false},"axis":null},
 "y":{"field":"r","type":"quantitative","scale":{"type":"linear","domain":[0,1,1.5,4.5,5],"range":[540,615,629,698,711],"zero":false,"nice":false},"axis":null},"text":{"field":"km"}}},
{"data":{"name":"table"},"mark":{"type":"text","baseline":"middle","align":"center","fontSize":14.5,"color":"#111"},
 "encoding":{"x":{"datum":3.5,"type":"quantitative","scale":{"type":"linear","domain":[0,1,2,3,4],"range":[9,114,215,295,376],"zero":false,"nice":false},"axis":null},
 "y":{"field":"r","type":"quantitative","scale":{"type":"linear","domain":[0,1,1.5,4.5,5],"range":[540,615,629,698,711],"zero":false,"nice":false},"axis":null},"text":{"field":"ratio"}}},

{"data":{"name":"activation"},"mark":{"type":"bar","orient":"vertical","width":10},
 "encoding":{"x":{"field":"slot","type":"quantitative","scale":{"type":"linear","domain":[-1,0,2,3,5,6,8,9,11,12],"range":[503,517,548,574,604,630,661,687,718,732],"zero":false,"nice":false},
   "axis":{"orient":"bottom","offset":-203,"labels":false,"ticks":false,"title":null,"domainColor":"#111","domainWidth":2,"grid":false}},
 "y":{"field":"mean","type":"quantitative","stack":null,"scale":{"type":"linear","domain":[0,1.5],"range":[510,359],"zero":true,"nice":false},
   "axis":{"orient":"left","offset":-503,"values":[0,0.5,1,1.5],"format":".1f","title":"Enzyme fold activation","titleFontSize":11.5,"titleFontWeight":"bold","titleColor":"#111","titlePadding":18,"labelFontSize":11,"labelFontWeight":"bold","labelColor":"#111","labelPadding":2,"labelFlush":false,"tickSize":4,"tickWidth":1.5,"tickColor":"#111","domainColor":"#111","domainWidth":1.8,"grid":false}},
 "color":{"field":"enzyme","type":"nominal","scale":{"domain":["SHIP1 (293T)","PPAC (293T)","PPAC (E. coli)","PAC2 (E. coli)"],"range":["#2d3a8f","#b51f27","#5e9b2f","#65308a"]},"legend":null}}},
{"data":{"name":"activation"},"mark":{"type":"rule","strokeWidth":2},
 "encoding":{"x":{"field":"slot","type":"quantitative","scale":{"type":"linear","domain":[-1,0,2,3,5,6,8,9,11,12],"range":[503,517,548,574,604,630,661,687,718,732],"zero":false,"nice":false},"axis":null},
 "y":{"field":"mean","type":"quantitative","scale":{"type":"linear","domain":[0,1.5],"range":[510,359],"zero":true,"nice":false},"axis":null},"y2":{"field":"upper"},
 "color":{"field":"enzyme","type":"nominal","scale":{"domain":["SHIP1 (293T)","PPAC (293T)","PPAC (E. coli)","PAC2 (E. coli)"],"range":["#2d3a8f","#b51f27","#5e9b2f","#65308a"]},"legend":null}}},
{"data":{"name":"activation"},"mark":{"type":"tick","orient":"horizontal","size":7,"thickness":2},
 "encoding":{"x":{"field":"slot","type":"quantitative","scale":{"type":"linear","domain":[-1,0,2,3,5,6,8,9,11,12],"range":[503,517,548,574,604,630,661,687,718,732],"zero":false,"nice":false},"axis":null},
 "y":{"field":"upper","type":"quantitative","scale":{"type":"linear","domain":[0,1.5],"range":[510,359],"zero":true,"nice":false},"axis":null},
 "color":{"field":"enzyme","type":"nominal","scale":{"domain":["SHIP1 (293T)","PPAC (293T)","PPAC (E. coli)","PAC2 (E. coli)"],"range":["#2d3a8f","#b51f27","#5e9b2f","#65308a"]},"legend":null}}},
{"data":{"name":"brackets"},"mark":{"type":"rule","strokeWidth":1,"color":"#333"},
 "encoding":{"x":{"field":"x1","type":"quantitative","scale":{"type":"linear","domain":[-1,0,2,3,5,6,8,9,11,12],"range":[503,517,548,574,604,630,661,687,718,732],"zero":false,"nice":false},"axis":null},"x2":{"field":"x2"},
 "y":{"field":"top","type":"quantitative","scale":{"type":"linear","domain":[0,1.5],"range":[510,359],"zero":true,"nice":false},"axis":null}}},
{"data":{"name":"brackets"},"mark":{"type":"rule","strokeWidth":1,"color":"#333"},
 "encoding":{"x":{"field":"x1","type":"quantitative","scale":{"type":"linear","domain":[-1,0,2,3,5,6,8,9,11,12],"range":[503,517,548,574,604,630,661,687,718,732],"zero":false,"nice":false},"axis":null},
 "y":{"field":"yl","type":"quantitative","scale":{"type":"linear","domain":[0,1.5],"range":[510,359],"zero":true,"nice":false},"axis":null},"y2":{"field":"top"}}},
{"data":{"name":"brackets"},"mark":{"type":"rule","strokeWidth":1,"color":"#333"},
 "encoding":{"x":{"field":"x2","type":"quantitative","scale":{"type":"linear","domain":[-1,0,2,3,5,6,8,9,11,12],"range":[503,517,548,574,604,630,661,687,718,732],"zero":false,"nice":false},"axis":null},
 "y":{"field":"yr","type":"quantitative","scale":{"type":"linear","domain":[0,1.5],"range":[510,359],"zero":true,"nice":false},"axis":null},"y2":{"field":"top"}}},
{"data":{"name":"brackets"},"mark":{"type":"text","fontSize":12,"color":"#222","baseline":"alphabetic","align":"center","dy":1.5},
 "encoding":{"x":{"field":"xm","type":"quantitative","scale":{"type":"linear","domain":[-1,0,2,3,5,6,8,9,11,12],"range":[503,517,548,574,604,630,661,687,718,732],"zero":false,"nice":false},"axis":null},
 "y":{"field":"top","type":"quantitative","scale":{"type":"linear","domain":[0,1.5],"range":[510,359],"zero":true,"nice":false},"axis":null},"text":{"field":"label"}}},
{"data":{"values":[{"lab":"EtOH","r":0},{"lab":"ZPR-MN100","r":1}]},"mark":{"type":"text","fontSize":9.5,"color":"#222","baseline":"middle","align":"right","dx":-1},
 "encoding":{"x":{"datum":-1,"type":"quantitative","scale":{"type":"linear","domain":[-1,0,2,3,5,6,8,9,11,12],"range":[503,517,548,574,604,630,661,687,718,732],"zero":false,"nice":false},"axis":null},
 "y":{"field":"r","type":"quantitative","scale":{"type":"linear","domain":[0,1],"range":[530,547],"zero":false,"nice":false},"axis":null},"text":{"field":"lab"}}},
{"data":{"name":"activation"},"mark":{"type":"text","fontSize":9.5,"color":"#222","baseline":"middle","align":"center"},
 "encoding":{"x":{"field":"slot","type":"quantitative","scale":{"type":"linear","domain":[-1,0,2,3,5,6,8,9,11,12],"range":[503,517,548,574,604,630,661,687,718,732],"zero":false,"nice":false},"axis":null},
 "y":{"datum":0,"type":"quantitative","scale":{"type":"linear","domain":[0,1],"range":[530,547],"zero":false,"nice":false},"axis":null},"text":{"field":"etoh"}}},
{"data":{"name":"activation"},"mark":{"type":"text","fontSize":9.5,"color":"#222","baseline":"middle","align":"center"},
 "encoding":{"x":{"field":"slot","type":"quantitative","scale":{"type":"linear","domain":[-1,0,2,3,5,6,8,9,11,12],"range":[503,517,548,574,604,630,661,687,718,732],"zero":false,"nice":false},"axis":null},
 "y":{"datum":1,"type":"quantitative","scale":{"type":"linear","domain":[0,1],"range":[530,547],"zero":false,"nice":false},"axis":null},"text":{"field":"zpr"}}},
{"data":{"name":"groups"},"mark":{"type":"tick","orient":"horizontal","size":41,"thickness":1,"color":"#333"},
 "encoding":{"x":{"field":"mid","type":"quantitative","scale":{"type":"linear","domain":[-1,0,2,3,5,6,8,9,11,12],"range":[503,517,548,574,604,630,661,687,718,732],"zero":false,"nice":false},"axis":null},
 "y":{"datum":1.59,"type":"quantitative","scale":{"type":"linear","domain":[0,1],"range":[530,547],"zero":false,"nice":false},"axis":null}}},
{"data":{"name":"groups"},"mark":{"type":"text","fontSize":9.5,"color":"#222","baseline":"middle","align":"center"},
 "encoding":{"x":{"field":"mid","type":"quantitative","scale":{"type":"linear","domain":[-1,0,2,3,5,6,8,9,11,12],"range":[503,517,548,574,604,630,661,687,718,732],"zero":false,"nice":false},"axis":null},
 "y":{"datum":2.18,"type":"quantitative","scale":{"type":"linear","domain":[0,1],"range":[530,547],"zero":false,"nice":false},"axis":null},"text":{"field":"name"}}},
{"data":{"name":"groups"},"transform":[{"filter":"datum.host == '293T'"},{"calculate":"'(' + datum.host + ')'","as":"sub"}],"mark":{"type":"text","fontSize":9.5,"color":"#222","baseline":"middle","align":"center"},
 "encoding":{"x":{"field":"mid","type":"quantitative","scale":{"type":"linear","domain":[-1,0,2,3,5,6,8,9,11,12],"range":[503,517,548,574,604,630,661,687,718,732],"zero":false,"nice":false},"axis":null},
 "y":{"datum":2.82,"type":"quantitative","scale":{"type":"linear","domain":[0,1],"range":[530,547],"zero":false,"nice":false},"axis":null},"text":{"field":"sub"}}},
{"data":{"name":"groups"},"transform":[{"filter":"datum.host == 'E. coli'"}],"mark":{"type":"text","fontSize":9.5,"fontStyle":"italic","color":"#222","baseline":"middle","align":"center"},
 "encoding":{"x":{"field":"mid","type":"quantitative","scale":{"type":"linear","domain":[-1,0,2,3,5,6,8,9,11,12],"range":[503,517,548,574,604,630,661,687,718,732],"zero":false,"nice":false},"axis":null},
 "y":{"datum":2.82,"type":"quantitative","scale":{"type":"linear","domain":[0,1],"range":[530,547],"zero":false,"nice":false},"axis":null},"text":{"field":"host"}}},
{"data":{"name":"groups"},"transform":[{"filter":"datum.host == 'E. coli'"}],"mark":{"type":"text","fontSize":9.5,"color":"#222","baseline":"middle","align":"right","dx":-13},
 "encoding":{"x":{"field":"mid","type":"quantitative","scale":{"type":"linear","domain":[-1,0,2,3,5,6,8,9,11,12],"range":[503,517,548,574,604,630,661,687,718,732],"zero":false,"nice":false},"axis":null},
 "y":{"datum":2.82,"type":"quantitative","scale":{"type":"linear","domain":[0,1],"range":[530,547],"zero":false,"nice":false},"axis":null},"text":{"value":"("}}},
{"data":{"name":"groups"},"transform":[{"filter":"datum.host == 'E. coli'"}],"mark":{"type":"text","fontSize":9.5,"color":"#222","baseline":"middle","align":"left","dx":13.5},
 "encoding":{"x":{"field":"mid","type":"quantitative","scale":{"type":"linear","domain":[-1,0,2,3,5,6,8,9,11,12],"range":[503,517,548,574,604,630,661,687,718,732],"zero":false,"nice":false},"axis":null},
 "y":{"datum":2.82,"type":"quantitative","scale":{"type":"linear","domain":[0,1],"range":[530,547],"zero":false,"nice":false},"axis":null},"text":{"value":")"}}},
{"data":{"values":[{"p":"A","c":"left","r":"top"},{"p":"B","c":"left","r":"bottom"},{"p":"C","c":"right","r":"bottom"}]},
 "mark":{"type":"text","fontSize":14,"fontWeight":"bold","color":"#000","align":"left","baseline":"alphabetic"},
 "encoding":{"x":{"field":"c","type":"nominal","scale":{"type":"point","domain":["left","right"],"range":[3,461],"padding":0},"axis":null},
 "y":{"field":"r","type":"nominal","scale":{"type":"point","domain":["top","bottom"],"range":[17,298],"padding":0},"axis":null},"text":{"field":"p"}}}
]
}
